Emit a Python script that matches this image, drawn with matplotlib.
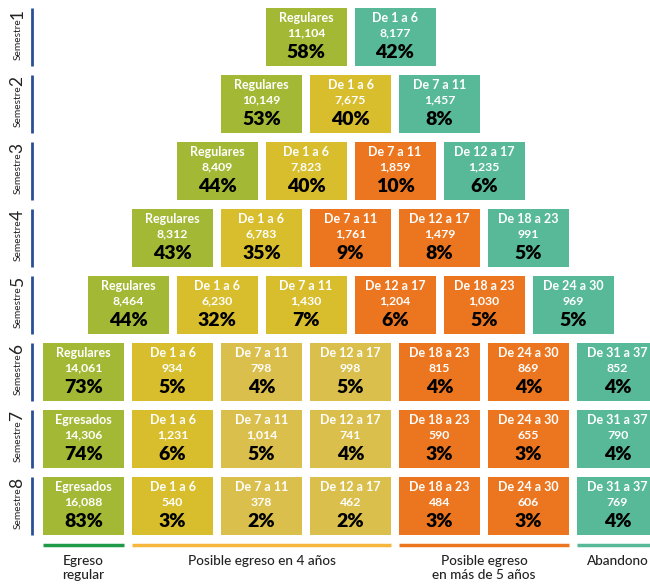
import matplotlib.pyplot as plt
from matplotlib.patches import Rectangle

plt.rcParams['font.family'] = ['Lato', 'DejaVu Sans']

semestres = [1, 2, 3, 4, 5, 6, 7, 8]
primera = ["Regulares"] * 6 + ["Egresados"] * 2
rangos = ["De 1 a 6", "De 7 a 11", "De 12 a 17", "De 18 a 23", "De 24 a 30", "De 31 a 37"]

alumnos = [
    [11104, 8177],
    [10149, 7675, 1457],
    [8409, 7823, 1859, 1235],
    [8312, 6783, 1761, 1479, 991],
    [8464, 6230, 1430, 1204, 1030, 969],
    [14061, 934, 798, 998, 815, 869, 852],
    [14306, 1231, 1014, 741, 590, 655, 790],
    [16088, 540, 378, 462, 484, 606, 769],
]
porcentajes = [
    [58, 42],
    [53, 40, 8],
    [44, 40, 10, 6],
    [43, 35, 9, 8, 5],
    [44, 32, 7, 6, 5, 5],
    [73, 5, 4, 5, 4, 4, 4],
    [74, 6, 5, 4, 3, 3, 4],
    [83, 3, 2, 2, 3, 3, 4],
]
tipos = [
    "GT", "GYT", "GYOT", "GYOOT", "GYYOOT",
    "GYLLOOT", "GYLLOOT", "GYLLOOT",
]
colores = {"G": "#a3b935", "Y": "#d8bd2d", "L": "#dabf4c", "O": "#ec761f", "T": "#58b998"}

grupos = ["Egreso\nregular", "Posible egreso en 4 años", "Posible egreso\nen más de 5 años", "Abandono"]
grupo_cols = [(0, 0), (1, 3), (4, 5), (6, 6)]
grupo_colores = ["#1f9a48", "#f6b73c", "#ec761f", "#58b998"]

fig = plt.figure(figsize=(6.5, 5.87), dpi=100)
ax = fig.add_axes([0, 0, 1, 1])
ax.set_xlim(-43 / 89, 607 / 89)
ax.set_ylim(579 / 67, -8 / 67)
ax.axis('off')

w = 81 / 89
h = 58 / 67

for r, sem in enumerate(semestres):
    off = max(0, 5 - r) * 0.5
    for j, val in enumerate(alumnos[r]):
        x = off + j
        ax.add_patch(Rectangle((x, r), w, h, color=colores[tipos[r][j]], lw=0))
        nombre = primera[r] if j == 0 else rangos[j - 1]
        cx = x + w / 2
        ax.text(cx, r + 0.15, nombre, color='white', fontsize=9, fontweight='bold',
                ha='center', va='center')
        ax.text(cx, r + 0.375, f"{val:,}", color='white', fontsize=8.8, fontweight='bold',
                ha='center', va='center')
        ax.text(cx, r + 0.66, f"{porcentajes[r][j]}%", color='black', fontsize=14,
                fontweight='heavy', ha='center', va='center')
    # etiqueta lateral
    lx = -11 / 89
    ax.plot([lx, lx], [r, r + h], color='#2a4e98', lw=2, solid_capstyle='butt')
    tx = -25 / 89
    ax.text(tx, r + 0.16, "Semestre", rotation=90, fontsize=7.3, ha='center', va='top',
            color='#222222')
    ax.text(tx - 0.005, r + 0.16, str(sem), rotation=90, fontsize=12.5, ha='center',
            va='bottom', color='#222222')

# líneas y etiquetas de grupo
ly = 545 / 67 - 8 / 67
for g, (a, b) in enumerate(grupo_cols):
    ax.plot([a, b + w], [ly, ly], color=grupo_colores[g], lw=2.5, solid_capstyle='butt')
    ax.text((a + b + w) / 2, ly + 0.15, grupos[g], ha='center', va='top', fontsize=9.8,
            fontweight='medium', color='#222222', linespacing=1.2)

fig.savefig('out.png', dpi=100)
